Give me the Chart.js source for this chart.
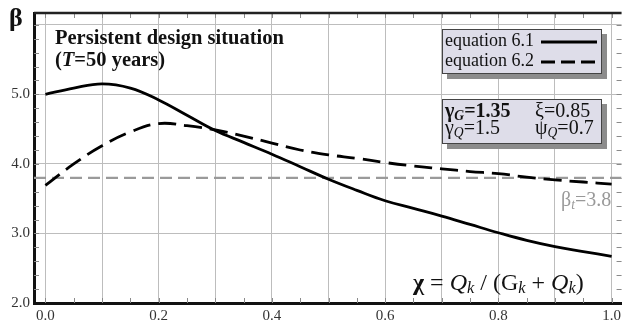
<!DOCTYPE html>
<html>
<head>
<meta charset="utf-8">
<script src="https://cdn.jsdelivr.net/npm/chart.js@4/dist/chart.umd.min.js"></script>
<style>
  html, body { margin: 0; padding: 0; background: #fff; }
  #wrap { position: relative; width: 625px; height: 325px; font-family: "Liberation Serif", "Times New Roman", serif; }
  canvas { position: absolute; left: 0; top: 0; }
  .t { position: absolute; white-space: nowrap; color: #111; }
  .box { position: absolute; background: #dedde9; border: 1px solid #444; box-shadow: 5px 5px 0 #8c8c8c; }
  sub { font-size: 68%; vertical-align: -0.2em; line-height: 0; }
</style>
</head>
<body>
<div id="wrap">
  <canvas id="c" width="625" height="325"></canvas>
  <div class="t" style="left:9px; top:3px; font-size:26px; font-weight:bold;">β</div>
  <div class="t" style="left:55px; top:26px; font-size:20.5px; font-weight:bold; line-height:22px;">Persistent design situation<br>(<i>T</i>=50 years)</div>

  <div class="box" style="left:442px; top:29px; width:158px; height:43px;"></div>
  <div class="t" style="left:445px; top:30px; font-size:18px; line-height:20px;">equation 6.1</div>
  <div class="t" style="left:445px; top:50px; font-size:18px; line-height:20px;">equation 6.2</div>
  <svg style="position:absolute; left:540px; top:30px;" width="60" height="42">
    <line x1="1" y1="12" x2="57" y2="12" stroke="#000" stroke-width="3"/>
    <line x1="1" y1="32" x2="57" y2="32" stroke="#000" stroke-width="3" stroke-dasharray="14,6"/>
  </svg>

  <div class="box" style="left:442px; top:99px; width:158px; height:43px;"></div>
  <div class="t" style="left:445px; top:99px; font-size:20px; line-height:22px; font-weight:bold;">γ<sub><i>G</i></sub>=1.35</div>
  <div class="t" style="left:535px; top:99px; font-size:20px; line-height:22px;">ξ=0.85</div>
  <div class="t" style="left:445px; top:116px; font-size:20px; line-height:22px;">γ<sub><i>Q</i></sub>=1.5</div>
  <div class="t" style="left:535px; top:116px; font-size:20px; line-height:22px;">ψ<sub><i>Q</i></sub>=0.7</div>

  <div class="t" style="left:561px; top:188px; font-size:20px; line-height:22px; color:#999;">β<sub><i>t</i></sub>=3.8</div>
  <div class="t" style="left:413px; top:268px; font-size:24px; line-height:28px;"><b>χ</b> = <i>Q</i><sub><i>k</i></sub> / (G<sub><i>k</i></sub> + <i>Q</i><sub><i>k</i></sub>)</div>
</div>
<script>
// ---- data ----
const chi = [0, 0.05, 0.1, 0.15, 0.2, 0.25, 0.3, 0.35, 0.4, 0.45, 0.5, 0.55, 0.6, 0.65, 0.7, 0.75, 0.8, 0.85, 0.9, 0.95, 1.0];
const beta61 = [5.00, 5.09, 5.15, 5.09, 4.92, 4.70, 4.48, 4.31, 4.14, 3.96, 3.78, 3.62, 3.47, 3.36, 3.25, 3.13, 3.01, 2.90, 2.81, 2.74, 2.67];
const beta62 = [3.69, 4.00, 4.26, 4.46, 4.58, 4.55, 4.49, 4.40, 4.30, 4.20, 4.13, 4.08, 4.02, 3.97, 3.93, 3.89, 3.86, 3.81, 3.77, 3.74, 3.71];
const betaTarget = 3.8;
const xTicks = [0, 0.1, 0.2, 0.3, 0.4, 0.5, 0.6, 0.7, 0.8, 0.9, 1.0];
const yTicks = [2, 3, 4, 5, 6];
const xRange = [-0.0202, 1.0176];
const yRange = [2.0, 6.17];

const pts = (xs, ys) => xs.map((x, i) => ({ x: x, y: ys[i] }));

const framePlugin = {
  id: 'frame',
  beforeDatasetsDraw(chart) {
    const { ctx, chartArea: a, scales: { x, y } } = chart;
    ctx.save();
    ctx.strokeStyle = '#8a8a8a';
    ctx.lineWidth = 1;
    ctx.beginPath();
    for (let i = 0; i <= 20; i++) {
      const px = Math.round(x.getPixelForValue(i * 0.05)) + 0.5;
      ctx.moveTo(px, a.bottom); ctx.lineTo(px, a.bottom - 5);
      ctx.moveTo(px, a.top); ctx.lineTo(px, a.top + 5);
    }
    for (let v = 2.2; v < 6.15; v += 0.2) {
      const py = Math.round(y.getPixelForValue(v)) + 0.5;
      ctx.moveTo(a.left, py); ctx.lineTo(a.left + 5, py);
      ctx.moveTo(a.right, py); ctx.lineTo(a.right - 5, py);
    }
    ctx.stroke();
    ctx.restore();
  },
  afterDraw(chart) {
    const { ctx, chartArea: a } = chart;
    ctx.save();
    ctx.strokeStyle = '#222';
    ctx.lineWidth = 2.5;
    ctx.beginPath();
    ctx.moveTo(a.left, a.top); ctx.lineTo(a.right, a.top);
    ctx.stroke();
    ctx.restore();
  }
};

new Chart(document.getElementById('c'), {
  type: 'line',
  data: {
    datasets: [
      { label: 'equation 6.1', data: pts(chi, beta61), borderColor: '#000', borderWidth: 2.8, pointRadius: 0, fill: false, tension: 0.4 },
      { label: 'equation 6.2', data: pts(chi, beta62), borderColor: '#000', borderWidth: 2.8, borderDash: [18, 8], pointRadius: 0, fill: false, tension: 0.4 },
      { label: 'βt', data: pts(xRange, [betaTarget, betaTarget]), borderColor: '#9a9a9a', borderWidth: 2.2, borderDash: [12, 6], pointRadius: 0, fill: false }
    ]
  },
  options: {
    responsive: false,
    animation: false,
    devicePixelRatio: 1,
    layout: { padding: { top: 11, right: 1, left: 0, bottom: 0 } },
    plugins: { legend: { display: false }, tooltip: { enabled: false } },
    scales: {
      x: {
        type: 'linear', min: xRange[0], max: xRange[1],
        afterBuildTicks: s => { s.ticks = xTicks.map(v => ({ value: v })); },
        afterFit: s => { s.height = 22; },
        ticks: {
          autoSkip: false, maxRotation: 0, padding: 4, color: '#333',
          font: { family: '"Liberation Serif", serif', size: 15 },
          callback: v => (Math.round(v * 10) % 2 === 0 ? v.toFixed(1) : '')
        },
        grid: { color: '#bdbdbd', lineWidth: 1, drawTicks: false },
        border: { display: true, color: '#111', width: 3 }
      },
      y: {
        type: 'linear', min: yRange[0], max: yRange[1],
        afterBuildTicks: s => { s.ticks = yTicks.map(v => ({ value: v })); },
        afterFit: s => { s.width = 34; },
        ticks: {
          autoSkip: false, padding: 4, color: '#333',
          font: { family: '"Liberation Serif", serif', size: 15 },
          callback: v => (v >= 6 ? '' : v.toFixed(1))
        },
        grid: { color: '#bdbdbd', lineWidth: 1, drawTicks: false },
        border: { display: true, color: '#111', width: 3 }
      }
    }
  },
  plugins: [framePlugin]
});
</script>
</body>
</html>
